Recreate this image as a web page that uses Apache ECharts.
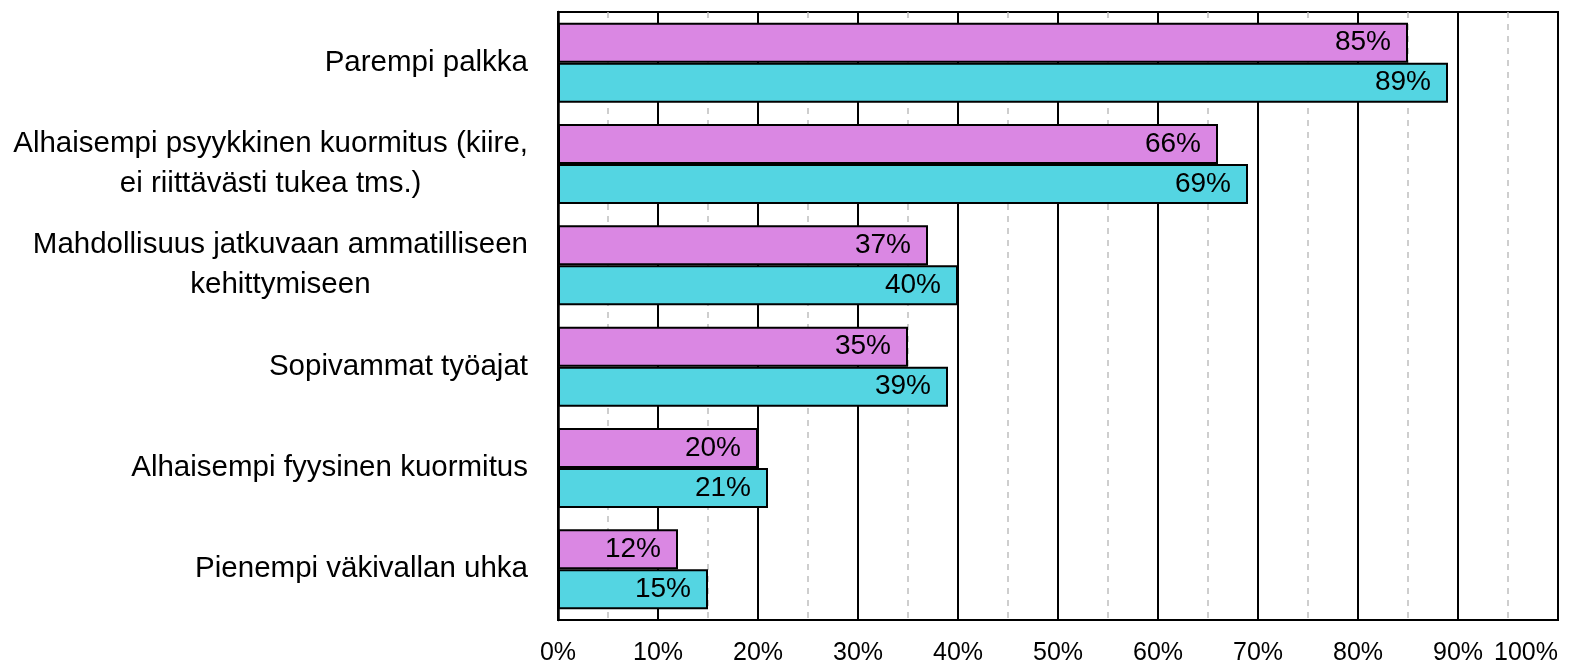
<!DOCTYPE html>
<html>
<head>
<meta charset="utf-8">
<script src="https://cdn.jsdelivr.net/npm/echarts@6/dist/echarts.min.js"></script>
<style>
  html, body { margin: 0; padding: 0; background: #fff; }
  #chart { width: 1591px; height: 666px; }
</style>
</head>
<body>
<div id="chart"></div>
<script>
// kategoriat ylhäältä alas
const categories = [
  "Parempi palkka",
  "Alhaisempi psyykkinen kuormitus (kiire,\nei riittävästi tukea tms.)",
  "Mahdollisuus jatkuvaan ammatilliseen\nkehittymiseen",
  "Sopivammat työajat",
  "Alhaisempi fyysinen kuormitus",
  "Pienempi väkivallan uhka"
];
const seriesA = [85, 66, 37, 35, 20, 12]; // violetti
const seriesB = [89, 69, 40, 39, 21, 15]; // turkoosi

const FONT = "Liberation Sans";

const chart = echarts.init(document.getElementById("chart"));

function barLabel() {
  return {
    show: true,
    position: "insideRight",
    distance: 17,
    formatter: "{c}%",
    color: "#000",
    fontSize: 28,
    fontFamily: FONT,
  };
}

const option = {
  animation: false,
  grid: {
    left: 558,
    right: 33,
    top: 12,
    bottom: 46,
    containLabel: false,
    outerBoundsMode: "none",
    show: true,
    borderColor: "#000",
    borderWidth: 2,
  },
  xAxis: {
    type: "value",
    min: 0,
    max: 100,
    interval: 10,
    axisLine: { show: true, lineStyle: { color: "#000", width: 2 } },
    axisTick: { show: false },
    axisLabel: {
      formatter: "{value}%",
      color: "#000",
      fontSize: 25,
      fontFamily: FONT,
      margin: 21,
      alignMaxLabel: "right",
    },
    splitLine: { show: true, lineStyle: { color: "#000", width: 2 } },
    minorTick: { show: false, splitNumber: 2 },
    minorSplitLine: {
      show: true,
      lineStyle: { color: "#BFBFBF", width: 1.5, type: [6, 6] },
    },
  },
  yAxis: {
    type: "category",
    data: categories,
    inverse: true,
    axisLine: { show: true, lineStyle: { color: "#000", width: 2.5 } },
    axisTick: { show: false },
    axisLabel: {
      color: "#000",
      fontSize: 29.5,
      fontFamily: FONT,
      lineHeight: 40,
      margin: 30,
      align: "right",
      formatter: function (v) {
        return v.split("\n").map(function (s) { return "{c|" + s + "}"; }).join("\n");
      },
      rich: {
        c: { align: "center", fontSize: 29.5, fontFamily: FONT, color: "#000", lineHeight: 40 },
      },
    },
  },
  series: [
    {
      name: "A",
      type: "bar",
      data: seriesA,
      barGap: "0%",
      barCategoryGap: "21%",
      itemStyle: { color: "#DA87E3", borderColor: "#000", borderWidth: 2 },
      label: barLabel(),
    },
    {
      name: "B",
      type: "bar",
      data: seriesB,
      itemStyle: { color: "#54D5E2", borderColor: "#000", borderWidth: 2 },
      label: barLabel(),
    },
  ],
};

chart.setOption(option);
</script>
</body>
</html>
